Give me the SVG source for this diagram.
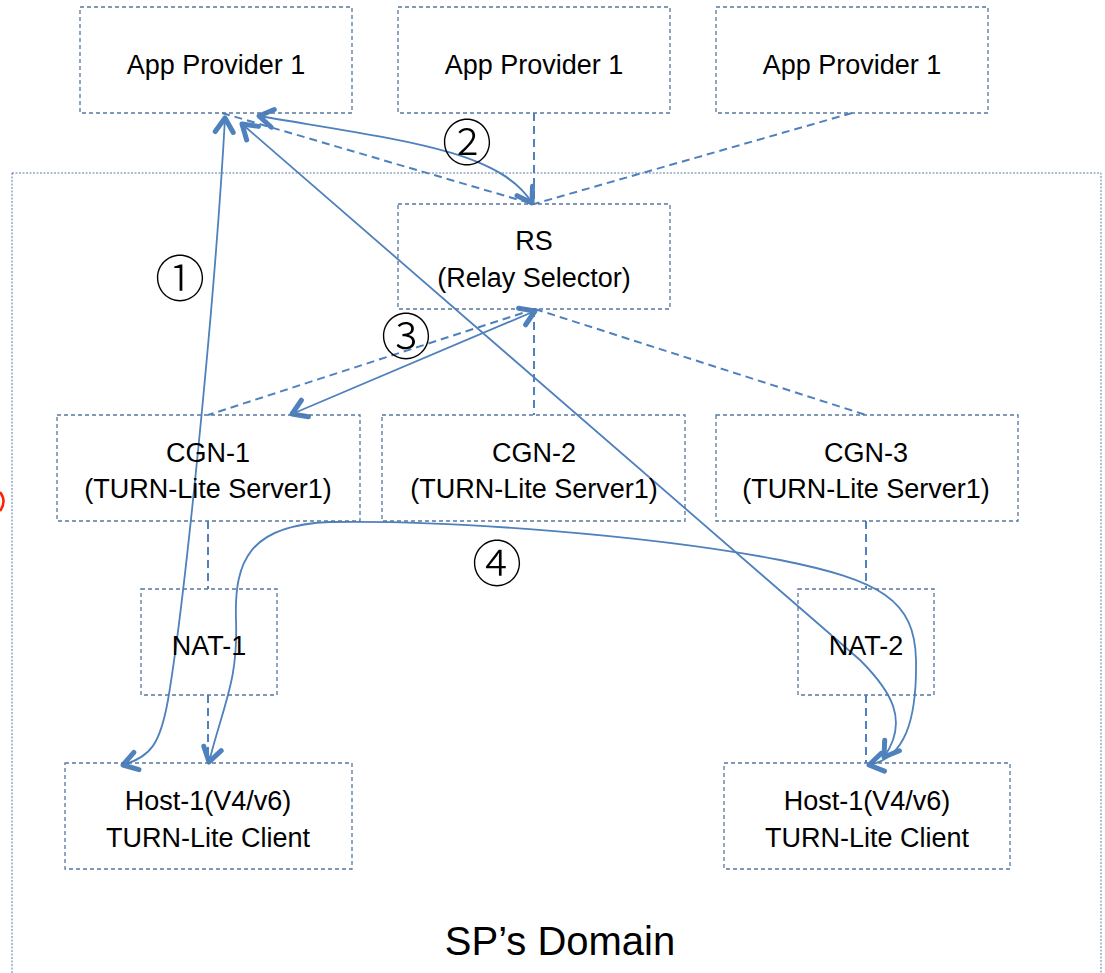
<svg xmlns="http://www.w3.org/2000/svg" width="1105" height="973" viewBox="0 0 1105 973">
<defs>
<style>
.box{fill:none;stroke:#5577a0;stroke-width:1.3;stroke-dasharray:4 3}
.lbl{font-family:"Liberation Sans",Arial,sans-serif;font-size:27px;fill:#000;text-anchor:middle}
.num{font-family:"Noto Sans CJK SC","Noto Sans CJK JP",sans-serif;font-size:50px;font-weight:300;fill:#000;text-anchor:middle;dominant-baseline:central}
.dash{fill:none;stroke:#4f81bd;stroke-width:2;stroke-dasharray:8 5}
.flow{fill:none;stroke:#4f81bd;stroke-width:1.8}
</style>
<marker id="ah" markerUnits="userSpaceOnUse" markerWidth="40" markerHeight="40" viewBox="-20 -20 40 40" refX="0" refY="0" orient="auto-start-reverse">
<path d="M -14,-9 L 0,0 L -14,9" fill="none" stroke="#4f81bd" stroke-width="5" stroke-linecap="round" stroke-linejoin="round"/>
</marker>
</defs>
<rect width="1105" height="973" fill="#fff"/>
<g id="domain">
<rect x="12" y="173" width="1089" height="830" fill="none" stroke="#5a7fa8" stroke-width="1" stroke-dasharray="2 1.5"/>
<text class="lbl" x="560" y="955" style="font-size:40px">SP’s Domain</text>
</g>
<path d="M 0,492 Q 7,501 0,511" fill="none" stroke="#ff2000" stroke-width="2.5"/>
<g id="connectors">
<line class="dash" x1="222" y1="113" x2="533" y2="204"/>
<line class="dash" x1="534" y1="113" x2="534" y2="204"/>
<line class="dash" x1="852" y1="113" x2="534" y2="204"/>
<line class="dash" x1="535" y1="309" x2="208" y2="415"/>
<line class="dash" x1="534" y1="309" x2="534" y2="415"/>
<line class="dash" x1="535" y1="309" x2="866" y2="415"/>
<line class="dash" x1="208" y1="521" x2="208" y2="589"/>
<line class="dash" x1="208" y1="695" x2="208" y2="763"/>
<line class="dash" x1="866" y1="521" x2="866" y2="589"/>
<line class="dash" x1="866" y1="695" x2="866" y2="763"/>
<path class="flow" d="M 225,118 C 215,300 185,600 168,700 C 160,745 150,757 123,765" marker-start="url(#ah)" marker-end="url(#ah)"/>
<path class="flow" d="M 259,116 C 400,140 500,150 532,203" marker-start="url(#ah)" marker-end="url(#ah)"/>
<path class="flow" d="M 292,414 L 535,311" marker-start="url(#ah)" marker-end="url(#ah)"/>
<path class="flow" d="M 242,124 L 860,660 C 890,690 910,720 884,757" marker-start="url(#ah)" marker-end="url(#ah)"/>
<path class="flow" d="M 209,762 C 225,700 238,680 236,620 C 234,560 250,525 330,522 C 450,520 650,535 780,560 C 880,580 915,600 916,660 C 917,720 905,758 869,765" marker-start="url(#ah)" marker-end="url(#ah)"/>
<text class="num" x="180" y="275">①</text>
<text class="num" x="467" y="139">②</text>
<text class="num" x="406" y="333">③</text>
<text class="num" x="497" y="560">④</text>
</g>
<g id="app1"><rect class="box" x="80" y="7" width="272" height="106"/><text class="lbl" x="216" y="74">App Provider 1</text></g>
<g id="app2"><rect class="box" x="398" y="7" width="272" height="106"/><text class="lbl" x="534" y="74">App Provider 1</text></g>
<g id="app3"><rect class="box" x="716" y="7" width="272" height="106"/><text class="lbl" x="852" y="74">App Provider 1</text></g>
<g id="rs"><rect class="box" x="398" y="204" width="272" height="105"/><text class="lbl" x="534" y="250">RS</text><text class="lbl" x="534" y="287">(Relay Selector)</text></g>
<g id="cgn1"><rect class="box" x="57" y="415" width="303" height="106"/><text class="lbl" x="208" y="462">CGN-1</text><text class="lbl" x="208" y="498">(TURN-Lite Server1)</text></g>
<g id="cgn2"><rect class="box" x="382" y="415" width="303" height="106"/><text class="lbl" x="534" y="462">CGN-2</text><text class="lbl" x="534" y="498">(TURN-Lite Server1)</text></g>
<g id="cgn3"><rect class="box" x="716" y="415" width="302" height="106"/><text class="lbl" x="866" y="462">CGN-3</text><text class="lbl" x="866" y="498">(TURN-Lite Server1)</text></g>
<g id="nat1"><rect class="box" x="141" y="589" width="136" height="106"/><text class="lbl" x="209" y="655">NAT-1</text></g>
<g id="nat2"><rect class="box" x="798" y="589" width="136" height="106"/><text class="lbl" x="866" y="655">NAT-2</text></g>
<g id="host1"><rect class="box" x="65" y="763" width="287" height="106"/><text class="lbl" x="208" y="810">Host-1(V4/v6)</text><text class="lbl" x="208" y="847">TURN-Lite Client</text></g>
<g id="host2"><rect class="box" x="724" y="763" width="286" height="106"/><text class="lbl" x="867" y="810">Host-1(V4/v6)</text><text class="lbl" x="867" y="847">TURN-Lite Client</text></g>
</svg>
